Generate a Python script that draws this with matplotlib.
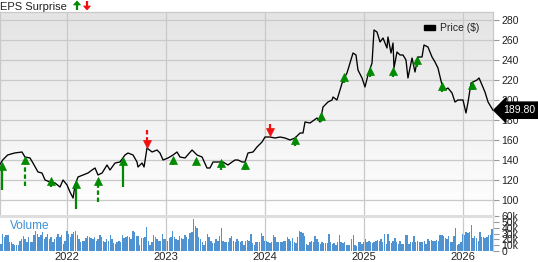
import numpy as np
import matplotlib
matplotlib.use("Agg")
import matplotlib.pyplot as plt
from matplotlib.colors import LinearSegmentedColormap
from matplotlib.patches import Patch, Polygon

plt.rcParams['font.family'] = ['Liberation Sans', 'DejaVu Sans']

# ---------------- data ----------------
price_t = [2021.32, 2021.35, 2021.40, 2021.47, 2021.545, 2021.575, 2021.626, 2021.656, 2021.707, 2021.747,
           2021.778, 2021.828, 2021.879, 2021.929, 2021.960, 2022.000, 2022.030, 2022.061, 2022.081, 2022.111,
           2022.162, 2022.212, 2022.253, 2022.283, 2022.313, 2022.354, 2022.404, 2022.434, 2022.485, 2022.535,
           2022.586, 2022.616, 2022.667, 2022.707, 2022.717, 2022.758, 2022.778, 2022.808, 2022.859, 2022.909,
           2022.939, 2022.970, 2023.020, 2023.071, 2023.111, 2023.141, 2023.192, 2023.263, 2023.313, 2023.364,
           2023.414, 2023.444, 2023.475, 2023.525, 2023.576, 2023.626, 2023.667, 2023.697, 2023.727, 2023.768,
           2023.798, 2023.828, 2023.879, 2023.919, 2023.970, 2024.000, 2024.051, 2024.101, 2024.152, 2024.202,
           2024.253, 2024.303, 2024.354, 2024.384, 2024.404, 2024.455, 2024.525, 2024.556, 2024.586, 2024.636,
           2024.677, 2024.687, 2024.727, 2024.758, 2024.788, 2024.828, 2024.859, 2024.889, 2024.919, 2024.939,
           2024.980, 2025.010, 2025.040, 2025.081, 2025.101, 2025.131, 2025.162, 2025.192, 2025.232, 2025.242,
           2025.273, 2025.293, 2025.303, 2025.333, 2025.364, 2025.394, 2025.424, 2025.444, 2025.485, 2025.515,
           2025.545, 2025.586, 2025.606, 2025.646, 2025.687, 2025.717, 2025.747, 2025.788, 2025.818, 2025.848,
           2025.889, 2025.919, 2025.949, 2026.000, 2026.030, 2026.051, 2026.081, 2026.101, 2026.141, 2026.162,
           2026.192, 2026.222, 2026.253, 2026.303]
price = [135, 140, 145, 147, 148, 143, 142, 137, 128, 127,
         120, 118, 117, 113, 120, 115, 108, 102, 115, 123,
         125, 127, 130, 132, 125, 127, 135, 130, 137, 138,
         145, 147, 145, 138, 133, 137, 133, 152, 148, 150,
         147, 140, 142, 145, 148, 143, 142, 150, 145, 143,
         132, 132, 138, 138, 138, 135, 138, 140, 140, 138,
         138, 147, 148, 153, 158, 163, 163, 162, 163, 162,
         160, 162, 167, 167, 178, 177, 182, 178, 193, 198,
         200, 203, 200, 210, 220, 227, 237, 247, 245, 230,
         222, 213, 225, 237, 270, 268, 258, 262, 252, 263,
         247, 257, 232, 248, 245, 245, 240, 222, 242, 228,
         243, 243, 255, 253, 243, 238, 232, 215, 210, 212,
         207, 198, 200, 200, 187, 198, 217, 218, 220, 222,
         215, 208, 198, 189.8]
last_price = 189.80

# EPS surprise arrows: date, arrow tip price, tail price, direction, dashed stem
eps_t = [2021.34, 2021.575, 2021.838, 2022.091, 2022.313, 2022.566, 2022.808, 2023.071, 2023.303, 2023.556,
         2023.798, 2024.051, 2024.303, 2024.566, 2024.798, 2025.060, 2025.293, 2025.535, 2025.788, 2026.091]
eps_tip = [137, 143, 122, 119, 122, 142, 153, 143, 142, 140,
           138, 165, 163, 187, 226, 232, 232, 243, 217, 218]
eps_tail = [110, 114, 113, 91, 98, 113, 170, 135, 135, 130,
            130, 176, 154, 178, 217, 223, 223, 233, 208, 210]
eps_dir = ['up', 'up', 'up', 'up', 'up', 'up', 'down', 'up', 'up', 'up',
           'up', 'down', 'up', 'up', 'up', 'up', 'up', 'up', 'up', 'up']
eps_dashed = [False, True, False, False, True, False, True, False, False, False,
              False, False, False, False, False, False, False, False, False, False]

# weekly volume (thousands)
volume = [12, 29, 24, 27, 27, 15, 16, 12, 10, 11, 11, 18, 21, 25, 21, 15, 24, 15, 15, 27,
          35, 29, 24, 27, 32, 21, 24, 29, 21, 24, 15, 21, 24, 29, 24, 27, 12, 18, 35, 29,
          24, 29, 32, 35, 27, 21, 15, 18, 18, 22, 25, 24, 22, 21, 24, 18, 21, 27, 24, 18,
          15, 21, 18, 27, 21,
          14, 12, 15, 18, 16, 28, 22, 24, 25, 24, 21, 35, 32, 25, 25, 11, 22, 22, 24, 41,
          18, 10, 15, 28, 24, 20, 18, 18, 29, 20, 20, 18, 22, 24, 35, 24, 21, 19, 25, 22,
          20, 27, 24, 20, 31, 33, 55, 43, 39, 24, 21, 15, 10, 18, 29, 24, 18, 14, 14, 20,
          18, 25, 39, 18, 15, 16, 16, 22, 25, 18, 15, 20, 18,
          15, 18, 10, 18, 19, 18, 29, 14, 11, 16, 16, 16, 31, 25, 18, 18, 16, 14, 16, 27,
          24, 16, 15, 15, 15, 18, 18, 24, 20, 18, 22, 16, 14, 24, 35, 32, 31, 25, 12, 10,
          15, 18, 16, 25, 21, 15, 12, 15, 14, 14, 14, 29, 15, 12, 14, 10, 15, 27, 15, 14,
          15, 11, 11, 11, 20, 28, 10, 8, 16, 15, 12, 15, 21, 16, 18,
          16, 14, 16, 18, 19, 18, 20, 15, 29, 12, 29, 18, 14, 18, 22, 16, 12, 18, 12, 12,
          28, 27, 12, 15, 16, 25, 16, 18, 16, 16, 15, 18, 12, 20, 18, 19, 18, 18, 19, 18,
          28, 28, 25, 22, 21, 25, 16, 16, 25, 39, 11, 12, 16, 29, 27, 32, 31, 32, 45, 22,
          25, 22, 18, 33, 24, 24, 22, 24, 27, 28, 38]

years = [2022, 2023, 2024, 2025, 2026]
price_ticks = [100, 120, 140, 160, 180, 200, 220, 240, 260, 280]
vol_ticks = [0, 10, 20, 30, 40, 50, 60]
vol_labels = ['0', '10k', '20k', '30k', '40k', '50k', '60k']

# ---------------- layout ----------------
W, H = 538, 262
fig = plt.figure(figsize=(W / 100, H / 100), dpi=100)
fig.patch.set_facecolor('white')

x0, x1 = 2021.323, 2026.303
right = 493 / W
ax = fig.add_axes([0, 1 - 215 / H, right, (215 - 12) / H])
vax = fig.add_axes([0, 1 - 251 / H, right, 35 / H])

grid_c = '#c9c9c9'
txt_c = '#222222'

# gradient background
cmap = LinearSegmentedColormap.from_list('bg', ['#ffffff', '#e4e4e4'])
grad = np.linspace(0, 1, 256).reshape(-1, 1)
ax.imshow(grad, extent=[0, 1, 0, 1], transform=ax.transAxes, origin='lower',
          aspect='auto', cmap=cmap, zorder=0)

ax.set_xlim(x0, x1)
ax.set_ylim(85, 288)
ax.set_yticks(price_ticks)
ax.set_xticks(years)
ax.grid(True, color=grid_c, lw=0.9, zorder=1)
ax.yaxis.tick_right()
ax.tick_params(axis='y', length=4, width=0.8, color='#999999', labelsize=7.5,
               labelcolor=txt_c, pad=2)
ax.tick_params(axis='x', length=0, labelbottom=False)
for s in ax.spines.values():
    s.set_color(grid_c)
    s.set_linewidth(0.9)
ax.spines['bottom'].set_visible(False)

# price line
ax.plot(price_t, price, color='black', lw=0.95, zorder=4)

# EPS arrows
for t, tip, tail, d, dsh in zip(eps_t, eps_tip, eps_tail, eps_dir, eps_dashed):
    col = '#008a00' if d == 'up' else '#f01010'
    sgn = 1 if d == 'up' else -1
    ax.plot([t, t], [tail, tip - sgn * 3], color=col, lw=1.6,
            ls=(0, (2.0, 1.2)) if dsh else '-', zorder=5, solid_capstyle='butt')
    ax.plot([t], [tip - sgn * 3], marker='^' if d == 'up' else 'v', ms=5.5,
            color=col, mec=col, mew=0.5, zorder=6)

# legend
leg = ax.legend(handles=[Patch(facecolor='black', edgecolor='black')], labels=['Price ($)'],
                loc='upper right', bbox_to_anchor=(0.985, 0.975), frameon=False,
                fontsize=7.5, handlelength=1.0, handleheight=0.45, handletextpad=0.5,
                borderaxespad=0.2)
for tx in leg.get_texts():
    tx.set_color(txt_c)

# last price tag
ax.annotate(f'{last_price:.2f}', xy=(1.0, last_price), xycoords=('axes fraction', 'data'),
            xytext=(7, 0), textcoords='offset points', ha='left', va='center',
            fontsize=7.5, color='white', annotation_clip=False, zorder=10,
            bbox=dict(boxstyle='larrow,pad=0.3', fc='black', ec='black'))

# volume
n = len(volume)
vt = np.linspace(x0 + (x1 - x0) / n / 2, x1 - (x1 - x0) / n / 2, n)
vax.bar(vt, volume, width=(x1 - x0) / n * 0.82, color='#4f93d2', zorder=3)
vax.set_xlim(x0, x1)
vax.set_ylim(0, 60)
vax.set_yticks(vol_ticks)
vax.set_yticklabels(vol_labels)
vax.yaxis.tick_right()
vax.tick_params(axis='y', length=4, width=0.8, color='#999999', labelsize=7.5,
                labelcolor=txt_c, pad=2)
vax.set_xticks(years)
vax.set_xticklabels([str(y) for y in years])
vax.tick_params(axis='x', length=0, labelsize=8, labelcolor=txt_c, pad=1)
vax.grid(True, axis='x', color=grid_c, lw=0.9, zorder=1)
for s in vax.spines.values():
    s.set_visible(False)
vax.spines['top'].set_visible(True)
vax.spines['top'].set_color('#dedede')
vax.spines['top'].set_linewidth(2.2)
vax.spines['right'].set_visible(True)
vax.spines['right'].set_color(grid_c)
vax.spines['right'].set_linewidth(0.9)
vax.text(0.02, 0.72, 'Volume', transform=vax.transAxes, color='#3d8fd6',
         fontsize=8.5, va='center', ha='left', zorder=5)

# header
fig.text(0.0, 1 - 6.5 / H, 'EPS Surprise', fontsize=8, color=txt_c, ha='left', va='center')
over = fig.add_axes([0, 0, 1, 1], zorder=20)
over.set_xlim(0, W)
over.set_ylim(H, 0)
over.axis('off')
over.add_patch(Polygon([[73.5, 5], [77, 1], [80.5, 5]], closed=True, fc='#008a00', ec='#008a00', lw=0.5))
over.plot([77, 77], [5, 10], color='#008a00', lw=1.6, solid_capstyle='butt')
over.add_patch(Polygon([[83.5, 6], [87, 10], [90.5, 6]], closed=True, fc='#f01010', ec='#f01010', lw=0.5))
over.plot([87, 87], [1, 6], color='#f01010', lw=1.6, solid_capstyle='butt')

fig.savefig('out.png', dpi=100)
